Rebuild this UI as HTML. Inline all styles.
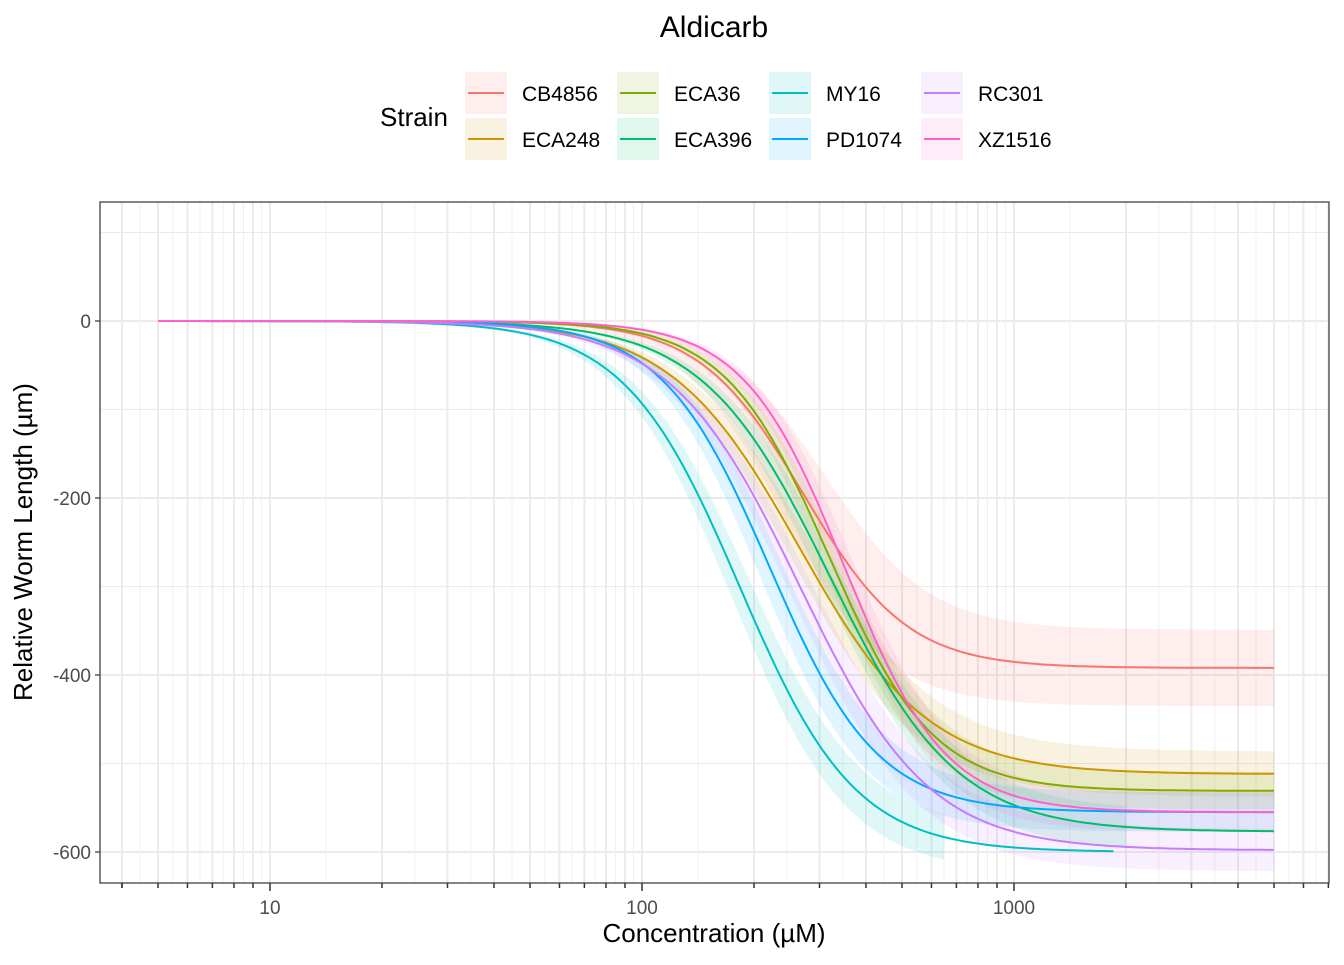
<!DOCTYPE html>
<html><head><meta charset="utf-8"><style>
body{margin:0;background:#fff;font-family:"Liberation Sans",Arial,sans-serif}
</style></head><body>
<svg id="chart" width="1344" height="960" xmlns="http://www.w3.org/2000/svg" font-family="Liberation Sans, Arial, sans-serif">
<text x="714" y="37" font-size="30" text-anchor="middle" fill="#000">Aldicarb</text>
<g id="legend"></g>
<g id="grid"></g>
<g id="ribbons"></g>
<g id="lines"></g>
<rect x="100" y="202" width="1229" height="681" fill="none" stroke="#333" stroke-width="1.2"/>
<g id="axes"></g>
<text x="714" y="942" font-size="26" text-anchor="middle">Concentration (µM)</text>
<text transform="translate(32,542) rotate(-90)" font-size="26" text-anchor="middle">Relative Worm Length (µm)</text>
</svg>
<script>
const strains=["CB4856","ECA248","ECA36","ECA396","MY16","PD1074","RC301","XZ1516"];
const colors=["#F8766D","#CD9600","#7CAE00","#00BE67","#00BFC4","#00A9FF","#C77CFF","#FF61CC"];
const bottoms=[-392,-512,-531,-577,-600,-555,-598,-555];
const ec50s=[272,265,318,320,183,220,265,350];
const slopes=[3.1,2.5,3.1,2.55,2.8,3.0,2.5,3.2];
const ribbonWidths=[0.11,0.05,0.04,0.04,0.04,0.04,0.04,0.04];
const ribbonShift=[1.14,1.05,1.04,1.04,1.05,1.06,1.05,1.04];
const maxConc=[5000,5000,5000,5000,1850,5000,5000,5000];
const ribbonMax=[5000,5000,5000,2000,650,5000,5000,5000];
const minConc=[5,5,5,5,5,5,5,5];
const yTicks=[0,-200,-400,-600];
const xTicks=[10,100,1000];
const NS="http://www.w3.org/2000/svg";
const L=100,R=1329,T=202,B=883;
const xs=v=>642+372*(Math.log10(v)-2);
const ys=v=>321-0.885*v;
function mk(tag,attrs,parent){const e=document.createElementNS(NS,tag);for(const k in attrs)e.setAttribute(k,attrs[k]);parent.appendChild(e);return e;}
const grid=document.getElementById('grid');
for(let v=100;v>=-600;v-=100){const major=yTicks.includes(v);
 const l=mk('line',{x1:L,x2:R,y1:ys(v),y2:ys(v),stroke:'#ebebeb','stroke-width':major?2:1},grid);
 
 }
const tickVals=[];
for(let d=1;d<=1000;d*=10)for(let m=1;m<=9;m++){const v=m*d;if(xs(v)>L&&xs(v)<R)tickVals.push(v);}
tickVals.forEach(v=>{
 const l=mk('line',{x1:xs(v),x2:xs(v),y1:T,y2:B,stroke:'#ebebeb','stroke-width':2},grid);
 
 
 const mid=Math.sqrt(v*(v+Math.pow(10,Math.floor(Math.log10(v)))));
 if(xs(mid)<R){const m=mk('line',{x1:xs(mid),x2:xs(mid),y1:T,y2:B,stroke:'#f0f0f0','stroke-width':1},grid);
 
 }
});
{const m=mk('line',{x1:xs(3.5),x2:xs(3.5),y1:T,y2:B,stroke:'#f0f0f0','stroke-width':1},grid);}
const fit=(i,x,b)=>b/(1+Math.pow(ec50s[i]/x,slopes[i]));
const rib=document.getElementById('ribbons'),lines=document.getElementById('lines');
strains.forEach((s,i)=>{
 const N=200,pts=[],up=[],lo=[];
 const a=Math.log10(minConc[i]),b=Math.log10(maxConc[i]),br=Math.log10(ribbonMax[i]);
 for(let k=0;k<=N;k++){const x=Math.pow(10,a+(b-a)*k/N);
  pts.push(xs(x).toFixed(1)+','+ys(fit(i,x,bottoms[i])).toFixed(1));
  const xr=Math.pow(10,a+(br-a)*k/N);
  up.push(xs(xr).toFixed(1)+','+ys(fit(i,xr/ribbonShift[i],bottoms[i]*(1-ribbonWidths[i]))).toFixed(1));
  lo.push(xs(xr).toFixed(1)+','+ys(fit(i,xr*ribbonShift[i],bottoms[i]*(1+ribbonWidths[i]))).toFixed(1));}
 const p=mk('polygon',{points:up.concat(lo.reverse()).join(' '),fill:colors[i],'fill-opacity':0.12},rib);
 
 
 const pl=mk('polyline',{points:pts.join(' '),fill:'none',stroke:colors[i],'stroke-width':2},lines);
 
 
});
const ax=document.getElementById('axes');
yTicks.forEach(v=>{
 const t=mk('line',{x1:L-5,x2:L,y1:ys(v),y2:ys(v),stroke:'#333','stroke-width':1.2},ax);
 
 const tx=mk('text',{x:L-9,y:ys(v)+7,'font-size':19,'text-anchor':'end',fill:'#4d4d4d'},ax);tx.textContent=v;
 });
[4].concat(tickVals).forEach(v=>{const major=xTicks.includes(v);
 const t=mk('line',{x1:xs(v),x2:xs(v),y1:B,y2:B+(major?8:5),stroke:'#333','stroke-width':1.5},ax);
 });
xTicks.forEach(v=>{const tx=mk('text',{x:xs(v),y:B+31,'font-size':19,'text-anchor':'middle',fill:'#4d4d4d'},ax);tx.textContent=v;
 });
const lg=document.getElementById('legend');
const lt=mk('text',{x:380,y:126,'font-size':26},lg);lt.textContent='Strain';

strains.forEach((s,i)=>{const c=Math.floor(i/2),r=i%2;const x=465+c*152,y=72+r*46;
 const g=mk('g',{},lg);
 mk('rect',{x:x,y:y,width:42,height:42,fill:colors[i],'fill-opacity':0.12},g);
 mk('line',{x1:x+3,x2:x+39,y1:y+21,y2:y+21,stroke:colors[i],'stroke-width':2},g);
 const t=mk('text',{x:x+57,y:y+29,'font-size':21},g);t.textContent=s;});
</script>
</body></html>
